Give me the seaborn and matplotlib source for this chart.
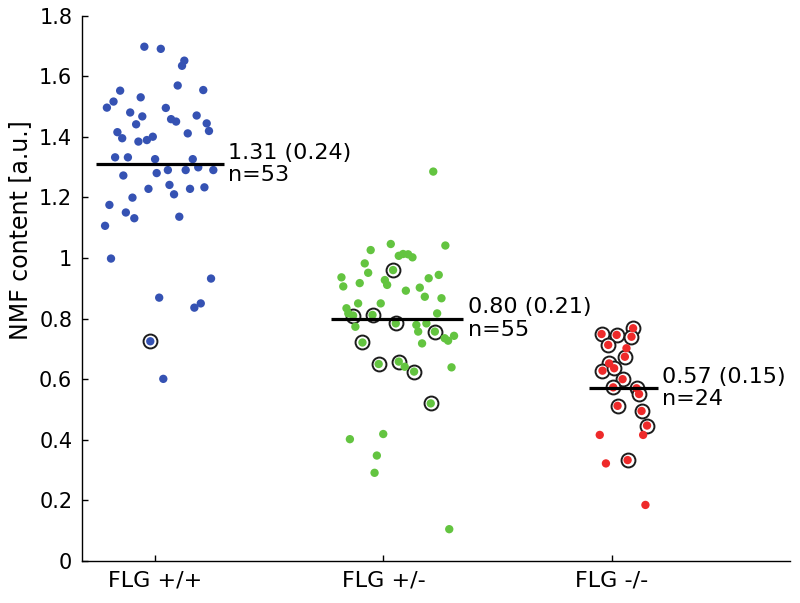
import pandas as pd
import matplotlib
matplotlib.use("Agg")
import matplotlib.pyplot as plt
import seaborn as sns

# Data
groups = ["FLG +/+", "FLG +/-", "FLG -/-"]

wt_vals = [1.697, 1.690, 1.651, 1.634, 1.569, 1.552, 1.554, 1.530, 1.516, 1.496,
           1.495, 1.480, 1.467, 1.470, 1.458, 1.450, 1.441, 1.444, 1.419, 1.415,
           1.395, 1.411, 1.400, 1.389, 1.384, 1.332, 1.332, 1.326, 1.326, 1.299,
           1.290, 1.290, 1.290, 1.280, 1.272, 1.241, 1.228, 1.228, 1.233, 1.210,
           1.199, 1.175, 1.150, 1.131, 1.136, 1.106, 0.998, 0.932, 0.869, 0.850,
           0.836, 0.725, 0.601]
wt_jitter = [-0.047, 0.025, 0.128, 0.118, 0.099, -0.153, 0.211, -0.063, -0.182, -0.211,
             0.047, -0.109, -0.056, 0.182, 0.070, 0.092, -0.083, 0.226, 0.236, -0.165,
             -0.144, 0.143, -0.010, -0.036, -0.073, -0.175, -0.119, 0.000, 0.165, 0.189,
             0.255, 0.134, 0.056, 0.007, -0.139, 0.063, -0.029, 0.153, 0.216, 0.083,
             -0.099, -0.200, -0.128, -0.091, 0.106, -0.219, -0.193, 0.245, 0.018, 0.200,
             0.172, -0.021, 0.036]
wt_circled = [0.725]

het_vals = [1.285, 1.041, 1.046, 1.026, 1.007, 1.013, 1.012, 1.002, 0.982, 0.951,
            0.960, 0.936, 0.906, 0.917, 0.927, 0.911, 0.933, 0.944, 0.892, 0.902,
            0.867, 0.872, 0.850, 0.850, 0.834, 0.817, 0.810, 0.812, 0.817, 0.784,
            0.773, 0.784, 0.779, 0.757, 0.757, 0.735, 0.743, 0.727, 0.721, 0.718,
            0.650, 0.658, 0.641, 0.625, 0.639, 0.520, 0.419, 0.402, 0.348, 0.291,
            0.105]
het_jitter = [0.218, 0.271, 0.032, -0.056, 0.067, 0.086, 0.108, 0.127, -0.082, -0.067,
              0.042, -0.184, -0.176, -0.104, 0.006, 0.016, 0.198, 0.242, 0.098, 0.159,
              0.254, 0.181, -0.012, -0.111, -0.162, -0.154, -0.133, -0.048, 0.235, 0.054,
              -0.123, 0.188, 0.144, 0.225, 0.152, 0.268, 0.309, 0.283, -0.092, 0.169,
              -0.021, 0.067, 0.093, 0.134, 0.298, 0.207, -0.001, -0.147, -0.029, -0.039,
              0.288]
het_circled = [0.960, 0.810, 0.812, 0.784, 0.757, 0.721, 0.650, 0.658, 0.625, 0.520]

ko_vals = [0.749, 0.746, 0.768, 0.740, 0.713, 0.702, 0.674, 0.652, 0.628, 0.636,
           0.600, 0.573, 0.570, 0.551, 0.512, 0.495, 0.447, 0.416, 0.416, 0.322,
           0.333, 0.185]
ko_jitter = [-0.045, 0.021, 0.093, 0.086, -0.016, 0.064, 0.057, -0.012, -0.041, 0.010,
             0.047, 0.006, 0.108, 0.119, 0.025, 0.130, 0.154, -0.053, 0.137, -0.026,
             0.069, 0.147]
ko_circled = [0.749, 0.746, 0.768, 0.740, 0.713, 0.674, 0.652, 0.628, 0.636, 0.600,
              0.573, 0.570, 0.551, 0.512, 0.495, 0.447, 0.333]

means = [1.31, 0.80, 0.57]
sds = [0.24, 0.21, 0.15]
counts = [53, 55, 24]

colors = {"FLG +/+": "#3552b3", "FLG +/-": "#63c440", "FLG -/-": "#ee2a2a"}

# Build one long table
rows = []
for i, (vals, jit, circ) in enumerate([(wt_vals, wt_jitter, wt_circled),
                                       (het_vals, het_jitter, het_circled),
                                       (ko_vals, ko_jitter, ko_circled)]):
    circ_left = list(circ)
    for v, j in zip(vals, jit):
        c = v in circ_left
        if c:
            circ_left.remove(v)
        rows.append({"group": groups[i], "x": i + 1 + j, "value": v, "circled": c})
df = pd.DataFrame(rows)

sns.set_style("white")
plt.rcParams["font.family"] = ["DejaVu Sans"]
plt.rcParams["text.color"] = "black"

fig = plt.figure(figsize=(8, 6.03), dpi=100)
ax = fig.add_axes([82 / 800, 42 / 603, 708 / 800, 545.5 / 603])

# rings behind the highlighted points
sns.scatterplot(data=df[df["circled"]], x="x", y="value", color="white",
                edgecolor="#1c1c1c", linewidth=1.4, s=100, ax=ax, zorder=2, legend=False)
sns.scatterplot(data=df, x="x", y="value", hue="group", palette=colors,
                s=36, linewidth=0, ax=ax, zorder=3, legend=False)

# mean lines and labels
line_lo = [-0.26, -0.23, -0.10]
line_hi = [0.30, 0.35, 0.20]
for i in range(3):
    ax.hlines(means[i], i + 1 + line_lo[i], i + 1 + line_hi[i], color="black",
              linewidth=2.3, zorder=4)
    ax.text(i + 1 + line_hi[i] + 0.02, means[i], f"{means[i]:.2f} ({sds[i]:.2f})\nn={counts[i]}",
            ha="left", va="center", fontsize=16, linespacing=1.15, color="black")

ax.set_xlim(0.68, 3.78)
ax.set_ylim(0, 1.8)
ax.set_xticks([1, 2, 3])
ax.set_xticklabels(groups)
ax.set_yticks([0, 0.2, 0.4, 0.6, 0.8, 1, 1.2, 1.4, 1.6, 1.8])
ax.set_yticklabels(["0", "0.2", "0.4", "0.6", "0.8", "1", "1.2", "1.4", "1.6", "1.8"])
ax.tick_params(direction="in", length=4, width=1, pad=7, colors="black",
               bottom=True, left=True)
ax.tick_params(axis="y", labelsize=15)
ax.tick_params(axis="x", labelsize=16)
ax.set_xlabel("")
ax.set_ylabel("NMF content [a.u.]", fontsize=17, color="black")
ax.yaxis.set_label_coords(-0.071, 0.607)
sns.despine(ax=ax)
for s in ["left", "bottom"]:
    ax.spines[s].set_color("black")
    ax.spines[s].set_linewidth(1)

fig.savefig("out.png", dpi=100)
